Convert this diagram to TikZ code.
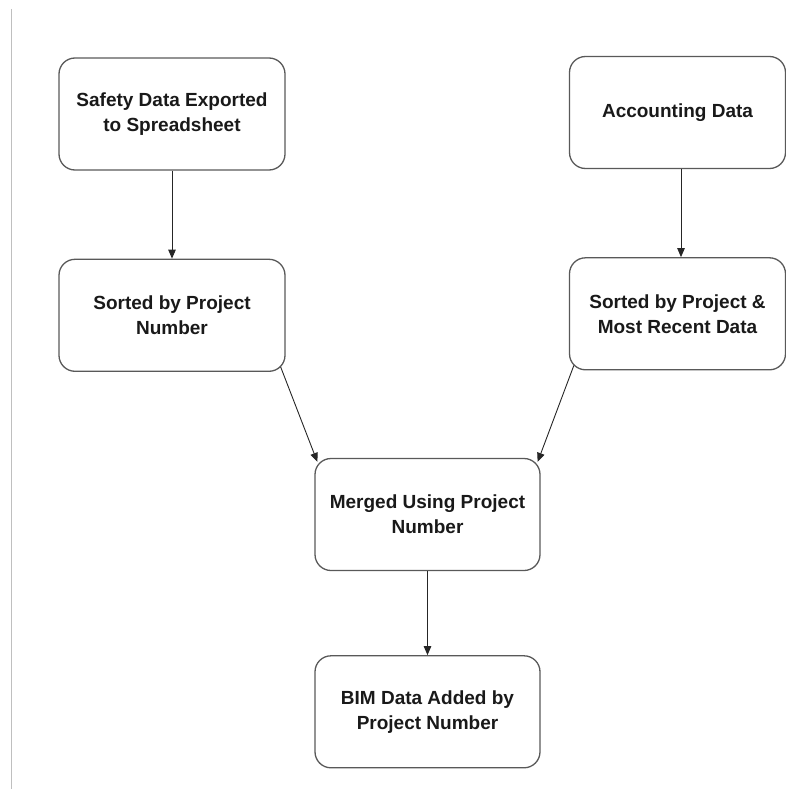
\documentclass[tikz,border=0pt]{standalone}
\usepackage{fontspec}
\setmainfont{Liberation Sans}
\usepackage{xcolor}
\usetikzlibrary{shapes,arrows.meta,positioning,calc}

\tikzset{
    procbox/.style={draw=black!65, line width=1.3pt, rounded corners=16pt,
        minimum width=226pt, minimum height=112pt, align=center,
        text=black!90, inner sep=0pt},
    flow/.style={->, draw=black!85, line width=0.9pt}
}

\begin{document}
\begin{tikzpicture}[
    x=1pt, y=1pt,
    >={Triangle[length=9pt,width=7.5pt]},
    node distance=88pt,
    every node/.style={font=\fontsize{19}{25}\selectfont\bfseries}
]
    \useasboundingbox (0,0) rectangle (786,-789);
    % page rule on the left
    \draw[black!25, line width=1pt] (11,-9) -- (11,-789);

    % Sources - safety on the left, accounting on the right
    \node[procbox] (safety) at (172,-114) {Safety Data Exported\\to Spreadsheet};
    \node[procbox, minimum width=216pt] (accounting) at (677.5,-112.5) {Accounting Data};
    \node[procbox, below=of safety] (sortedleft) {Sorted by Project\\Number};
    \node[procbox, minimum width=216pt, below=of accounting] (sortedright) {Sorted by Project \&\\Most Recent Data};

    % Merge and BIM step in the middle
    \node[procbox, minimum width=225pt] (merged) at (427.5,-514.5) {Merged Using Project\\Number};
    \node[procbox, minimum width=225pt, below=84pt of merged] (bim) {BIM Data Added by\\Project Number};

    % Connectors
    \draw[flow] (safety) -- (sortedleft);
    \draw[flow] ([xshift=3.5pt]accounting.south) -- ([xshift=3.5pt]sortedright.north);
    \draw[flow] ([shift={(-5pt,5pt)}]sortedleft.south east) -- ([shift={(3pt,-4pt)}]merged.north west);
    \draw[flow] ([shift={(5pt,5pt)}]sortedright.south west) -- ([shift={(-3pt,-4pt)}]merged.north east);
    \draw[flow] (merged) -- (bim);

\end{tikzpicture}
\end{document}
